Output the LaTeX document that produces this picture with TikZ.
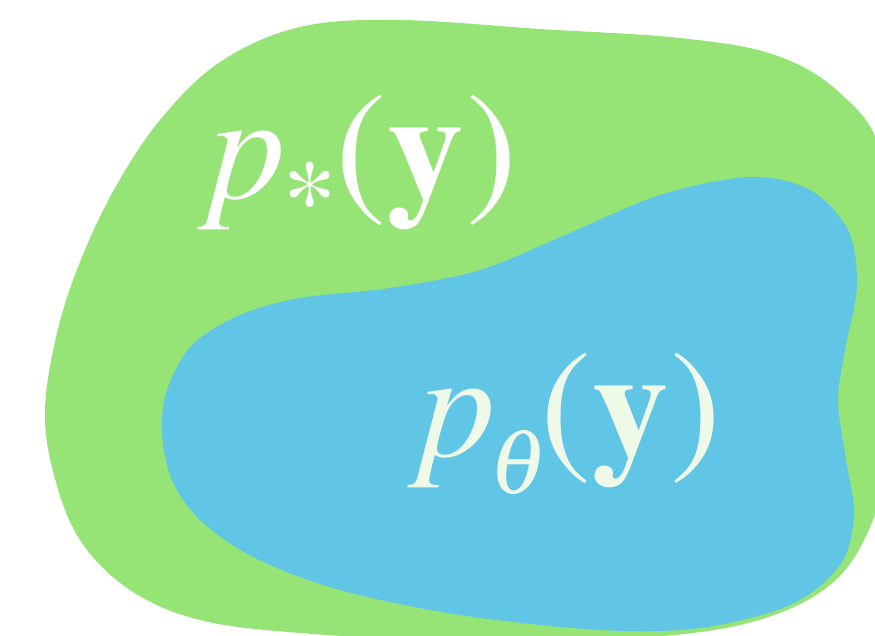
\documentclass[tikz,border=0pt]{standalone}
\usepackage{mathptmx}
\newcommand\tms{\fontencoding{OT1}\fontfamily{ptm}\selectfont}
\begin{document}
\begin{tikzpicture}[x=1pt,y=-1pt,
  lbl/.style={anchor=base west, inner sep=0pt, font=\tms\fontsize{153}{180}\selectfont}]
\definecolor{grn}{HTML}{96E476}
\definecolor{blu}{HTML}{61C6E6}
\definecolor{pale}{HTML}{EEF9E8}
\useasboundingbox (0,0) rectangle (875,635);
\clip (0,0) rectangle (875,635);
\fill[grn] plot[smooth cycle, tension=0.6] coordinates {
  (45,410) (57,333) (80,262) (115,188) (160,120) (220,62) (300,27) (400,20)
  (540,29) (680,38) (775,55) (840,93) (882,155)
  (900,300) (895,420) (875,515) (830,585) (740,625) (600,640) (440,640)
  (300,633) (200,620) (130,590) (80,540) (54,475)};
\fill[blu] plot[smooth cycle, tension=0.55] coordinates {
  (162,433) (167,390) (192,345) (240,315) (300,298) (390,288) (480,270)
  (565,235) (660,195) (750,177) (810,190) (848,230) (857,285) (846,345)
  (838,400) (846,460) (854,515) (840,565) (790,605) (700,628) (600,630)
  (460,615) (340,590) (255,558) (200,520) (172,480)};
\node[lbl, text=white] (ps) at (209.5,198)
  {{\itshape p}\kern-3.6pt\raisebox{-38pt}{\fontsize{110}{110}\selectfont *}\kern-1.7pt(\kern1pt{\bfseries y}\kern2pt)};
\node[lbl, text=pale] (pt) at (419.5,456)
  {{\itshape p}\kern-7pt\raisebox{-37.5pt}{\fontsize{92}{92}\selectfont$\theta$}\kern-7.3pt(\kern1pt{\bfseries y}\kern2pt)};
\end{tikzpicture}
\end{document}
